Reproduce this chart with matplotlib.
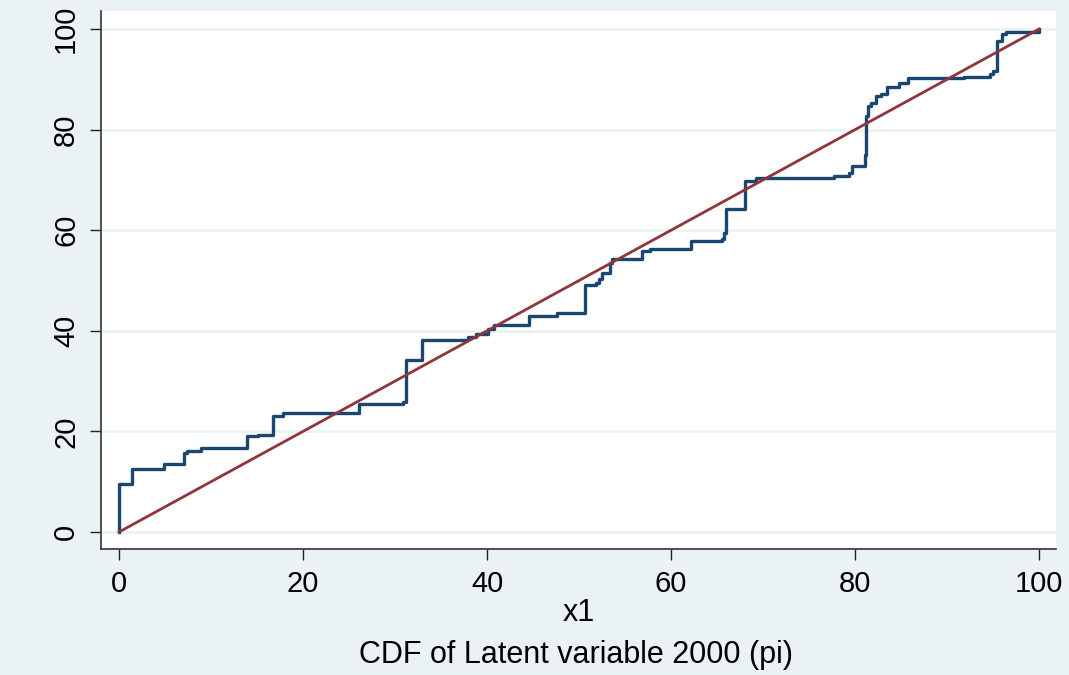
import matplotlib
matplotlib.use("Agg")
import matplotlib.pyplot as plt

# step points of the empirical CDF (jump location, new level)
cdf_x = [0, 0, 1.4, 4.9, 7.1, 7.4, 8.9,
         13.9, 15.1, 16.7, 17.8, 26.1, 30.9, 31.2,
         32.9, 37.9, 38.8, 40.1, 40.8, 44.6, 47.6,
         50.7, 51.9, 52.2, 52.5, 53.4, 53.6, 56.8,
         57.7, 62.2, 65.6, 65.8, 66.0, 68.1, 69.2,
         77.7, 79.3, 79.7, 81.1, 81.2, 81.4, 81.7,
         82.3, 82.8, 83.5, 84.8, 85.8, 91.9, 94.7,
         95.0, 95.4, 96.0, 96.4, 100]
cdf_y = [0, 9.5, 12.5, 13.5, 15.7, 16.2, 16.7,
         19.0, 19.2, 23.0, 23.6, 25.5, 25.9, 34.2,
         38.2, 38.8, 39.3, 40.4, 41.2, 43.0, 43.6,
         49.1, 49.5, 50.3, 51.5, 53.5, 54.3, 55.8,
         56.2, 57.8, 58.2, 59.4, 64.3, 69.8, 70.3,
         70.7, 71.3, 72.8, 74.9, 82.7, 84.7, 85.4,
         86.7, 87.1, 88.4, 89.2, 90.2, 90.4, 91.0,
         91.7, 97.7, 99.0, 99.5, 100]

diag_x = [0, 100]
diag_y = [0, 100]

ticks = [0, 20, 40, 60, 80, 100]

bg = "#eaf2f3"
navy = "#1a476f"
maroon = "#90353b"

plt.rcParams['font.family'] = ['Liberation Sans', 'DejaVu Sans']

fig = plt.figure(figsize=(10.69, 6.75), dpi=100, facecolor=bg)
ax = fig.add_axes([0.0945, 0.1867, 0.8933, 0.797])
ax.set_facecolor("white")

ax.step(cdf_x, cdf_y, where="post", color=navy, lw=2.4, zorder=3)
ax.plot(diag_x, diag_y, color=maroon, lw=2.0, zorder=4)

ax.set_xlim(-1.96, 101.85)
ax.set_ylim(-3.38, 103.6)
ax.set_xticks(ticks)
ax.set_yticks(ticks)
ax.tick_params(axis="both", direction="out", length=8, width=1, colors="#222222",
               labelsize=21, labelcolor="black", pad=7)
for lab in ax.get_yticklabels():
    lab.set_rotation(90)
    lab.set_va("center")

ax.yaxis.grid(True, color=bg, lw=2)
ax.set_axisbelow(True)

for s in ["top", "right"]:
    ax.spines[s].set_visible(False)
for s in ["left", "bottom"]:
    ax.spines[s].set_color("#333333")
    ax.spines[s].set_linewidth(1.2)

ax.set_xlabel("x1", fontsize=22, labelpad=0)
fig.text(0.5385, 0.029, "CDF of Latent variable 2000 (pi)", ha="center", va="center", fontsize=22)

fig.savefig("out.png", dpi=100, facecolor=bg)
